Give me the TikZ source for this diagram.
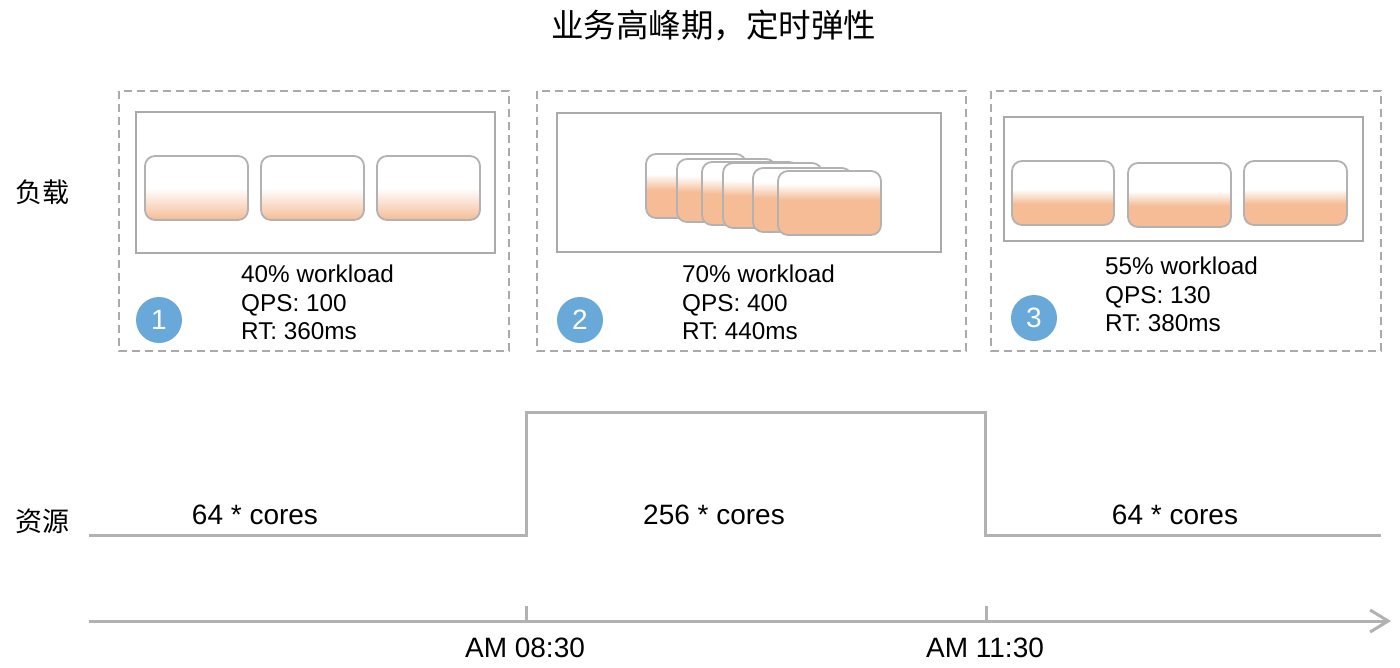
\documentclass[tikz,border=0pt]{standalone}
\usepackage{fontspec}
\setmainfont{Liberation Sans}
\newfontfamily\cjk{Noto Sans CJK SC}
\usetikzlibrary{arrows.meta}
\definecolor{dashgray}{HTML}{AAAAAA}
\definecolor{linegray}{HTML}{B2B2B2}
\definecolor{srvorange}{HTML}{F5BC96}
\definecolor{circblue}{HTML}{68A9D9}
\tikzset{
  dashbox/.style={draw=dashgray,line width=1.8pt,dash pattern=on 8pt off 5pt},
  innerbox/.style={draw=dashgray,line width=2pt},
  srvline/.style={draw=linegray,line width=1.8pt},
  numcirc/.style={circle,fill=circblue,minimum size=46pt,inner sep=0pt,text=white,font=\fontsize{28}{30}\selectfont},
  stat/.style={anchor=base west,inner sep=0pt,font=\fontsize{24.3}{28}\selectfont},
  big/.style={anchor=base,inner sep=0pt,font=\fontsize{28}{30}\selectfont},
  cjklabel/.style={inner sep=0pt,font=\cjk\fontsize{27}{30}\selectfont},
  stepline/.style={draw=linegray,line width=3pt,line join=miter},
}
\newcommand{\srvbox}[6]{%
  \begin{scope}
    \clip[rounded corners=10pt] (#1,#2) rectangle (#3,#4);
    \fill[white] (#1,#2) rectangle (#3,#4);
    \shade[top color=white,bottom color=srvorange] (#1,#5) rectangle (#3,#6);
    \fill[srvorange] (#1,#6) rectangle (#3,#4);
  \end{scope}
  \draw[srvline,rounded corners=10pt] (#1,#2) rectangle (#3,#4);
}
\begin{document}
\begin{tikzpicture}[x=1pt,y=-1pt]
\useasboundingbox (0,0) rectangle (1400,667);
\fill[white] (0,0) rectangle (1400,667);

% title and side labels
\node[cjklabel,font=\cjk\fontsize{32.5}{34}\selectfont] (title) at (713.5,25) {业务高峰期，定时弹性};
\node[cjklabel] (load) at (42,192) {负载};
\node[cjklabel] (res) at (42,521) {资源};

% dashed panels
\draw[dashbox] (119,91) rectangle (509,351);
\draw[dashbox] (537,91) rectangle (966,351);
\draw[dashbox] (991,91) rectangle (1381,351);

% inner rectangles
\draw[innerbox] (136,112) rectangle (495,253);
\draw[innerbox] (557,113) rectangle (941,252);
\draw[innerbox] (1004,117) rectangle (1363,241);

% panel 1 servers
\srvbox{145}{156}{248}{220}{188}{220}
\srvbox{261}{156}{364}{220}{188}{220}
\srvbox{377}{156}{480}{220}{188}{220}

% panel 2 servers (stacked)
\srvbox{646}{154}{746}{218}{174}{190}
\srvbox{677}{159}{776}{222}{176}{192}
\srvbox{702}{162}{799}{225}{178}{194}
\srvbox{723}{163}{822}{228}{180}{196}
\srvbox{753}{168}{852}{232}{182}{198}
\srvbox{778}{171}{881}{235}{184}{200}

% panel 3 servers
\srvbox{1012}{161}{1114}{225}{189}{204}
\srvbox{1128}{163}{1231}{227}{191}{206}
\srvbox{1244}{161}{1347}{225}{189}{204}

% number circles
\node[numcirc] (c1) at (159,320) {1};
\node[numcirc] (c2) at (580,320) {2};
\node[numcirc] (c3) at (1034,318) {3};

% stats
\node[stat] (w1) at (241,282) {40\% workload};
\node[stat] (q1) at (241,311) {QPS: 100};
\node[stat] (r1) at (241,339) {RT: 360ms};
\node[stat] (w2) at (682,282) {70\% workload};
\node[stat] (q2) at (682,311) {QPS: 400};
\node[stat] (r2) at (682,339) {RT: 440ms};
\node[stat] (w3) at (1105,274) {55\% workload};
\node[stat] (q3) at (1105,303) {QPS: 130};
\node[stat] (r3) at (1105,331) {RT: 380ms};

% resource step line
\coordinate (s0) at (89,535);
\coordinate (s1) at (526,535);
\coordinate (s2) at (526,412);
\coordinate (s3) at (985,412);
\coordinate (s4) at (985,535);
\coordinate (s5) at (1381,535);
\draw[stepline] (s0) -- (s1) -- (s2) -- (s3) -- (s4) -- (s5);
\node[big] (k1) at (255,524) {64 * cores};
\node[big] (k2) at (714,524) {256 * cores};
\node[big] (k3) at (1175,524) {64 * cores};

% time axis
\coordinate (a0) at (89,621);
\coordinate (a1) at (1391,621);
\draw[stepline,-{Straight Barb[length=18pt,width=22pt]}] (a0) -- (a1);
\coordinate (t1) at (526,621);
\coordinate (t1u) at (526,606);
\coordinate (t2) at (986,621);
\coordinate (t2u) at (986,606);
\draw[stepline] (t1) -- (t1u);
\draw[stepline] (t2) -- (t2u);
\node[big] (l1) at (525,657) {AM 08:30};
\node[big] (l2) at (985,657) {AM 11:30};
\end{tikzpicture}
\end{document}
